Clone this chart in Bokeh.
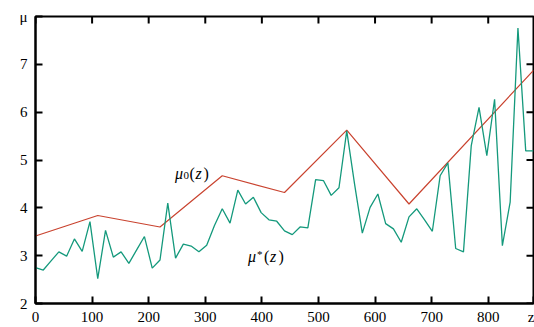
import math
from bokeh.plotting import figure
from bokeh.models import Range1d, FixedTicker, Label
from bokeh.embed import file_html
from bokeh.resources import INLINE

# ---- data ----
z0 = [0, 110, 220, 330, 440, 550, 660, 880]
mu0 = [3.41, 3.84, 3.60, 4.67, 4.32, 5.625, 4.08, 6.875]

z_star = [0, 13.75, 27.5, 41.25, 55, 68.75, 82.5, 96.25, 110, 123.75,
          137.5, 151.25, 165, 178.75, 192.5, 206.25, 220, 233.75, 247.5, 261.25,
          275, 288.75, 302.5, 316.25, 330, 343.75, 357.5, 371.25, 385, 398.75,
          412.5, 426.25, 440, 453.75, 467.5, 481.25, 495, 508.75, 522.5, 536.25,
          550, 563.75, 577.5, 591.25, 605, 618.75, 632.5, 646.25, 660, 673.75,
          687.5, 701.25, 715, 728.75, 742.5, 756.25, 770, 783.75, 797.5, 811.25,
          825, 838.75, 852.5, 866.25, 880]
mu_star = [2.75, 2.70, 2.89, 3.08, 2.99, 3.35, 3.09, 3.71, 2.52, 3.53,
           2.97, 3.08, 2.84, 3.12, 3.40, 2.74, 2.91, 4.10, 2.95, 3.24,
           3.20, 3.08, 3.22, 3.63, 3.98, 3.68, 4.37, 4.08, 4.22, 3.90,
           3.75, 3.72, 3.52, 3.44, 3.60, 3.58, 4.59, 4.57, 4.26, 4.42,
           5.61, 4.50, 3.47, 4.01, 4.29, 3.67, 3.56, 3.28, 3.81, 3.98,
           3.75, 3.51, 4.67, 4.94, 3.15, 3.08, 5.30, 6.10, 5.09, 6.27,
           3.21, 4.12, 7.76, 5.19, 5.19]

x_ticks = [0, 100, 200, 300, 400, 500, 600, 700, 800]
y_ticks = [2, 3, 4, 5, 6, 7]
X_MAX = 880
Y_MIN, Y_MAX = 2, 8
x_axis_name = "z"
y_axis_name = "μ"

FONT = "Liberation Serif, DejaVu Serif, serif"
RED = "#c9432f"
GREEN = "#14997c"

p = figure(width=534, height=327, output_backend="svg", toolbar_location=None,
           x_range=Range1d(0, X_MAX), y_range=Range1d(Y_MIN, Y_MAX),
           min_border_left=35, min_border_right=1, min_border_top=16,
           min_border_bottom=22)
p.outline_line_color = "black"
p.outline_line_width = 2
p.grid.visible = False
p.background_fill_color = "white"
p.border_fill_color = "white"

def style_axis(ax, ticks):
    ax.ticker = FixedTicker(ticks=ticks)
    ax.axis_line_width = 2
    ax.axis_line_color = "black"
    ax.major_tick_line_width = 2
    ax.major_tick_line_color = "black"
    ax.major_tick_in = 7
    ax.major_tick_out = 0
    ax.minor_tick_line_color = None
    ax.major_label_text_font = FONT
    ax.major_label_text_font_size = "15px"
    ax.major_label_text_color = "black"

# axis names sit where gnuplot puts them: at the end of each axis
style_axis(p.xaxis[0], x_ticks + [X_MAX])
p.xaxis[0].major_label_overrides = {X_MAX: x_axis_name}
p.xaxis[0].major_label_standoff = 5
style_axis(p.yaxis[0], y_ticks + [Y_MAX])
p.yaxis[0].major_label_overrides = {Y_MAX: y_axis_name}
p.yaxis[0].major_label_standoff = 8

# mirrored tick marks on the top and right edges of the box
p.ray(x=x_ticks, y=[Y_MAX] * len(x_ticks), length=7, length_units="screen",
      angle=-math.pi / 2, line_color="black", line_width=2)
p.ray(x=[X_MAX] * len(y_ticks), y=y_ticks, length=7, length_units="screen",
      angle=math.pi, line_color="black", line_width=2)

p.line(z0, mu0, line_color=RED, line_width=1.2)
p.line(z_star, mu_star, line_color=GREEN, line_width=1.3)

def add_pieces(x, y, pieces):
    for text, dx, dy, size, style in pieces:
        p.add_layout(Label(x=x, y=y, x_offset=dx, y_offset=dy, text=text,
                           text_font=FONT, text_font_size=size,
                           text_font_style=style, text_color="black",
                           text_baseline="alphabetic", text_align="left"))

add_pieces(246.3, 4.71, [
    ("μ", 0, 0, "16px", "italic"),
    ("0", 8.5, -2, "11px", "normal"),
    ("(", 14.5, 0, "16px", "normal"),
    ("z", 20.5, 0, "16px", "italic"),
    (")", 28.5, 0, "16px", "normal"),
])
add_pieces(375.5, 2.99, [
    ("μ", 0, 0, "16px", "italic"),
    ("*", 9, 2, "11px", "normal"),
    ("(", 16, 0, "16px", "normal"),
    ("z", 22, 0, "16px", "italic"),
    (")", 30.5, 0, "16px", "normal"),
])

open("out.html", "w").write(file_html(p, INLINE))
